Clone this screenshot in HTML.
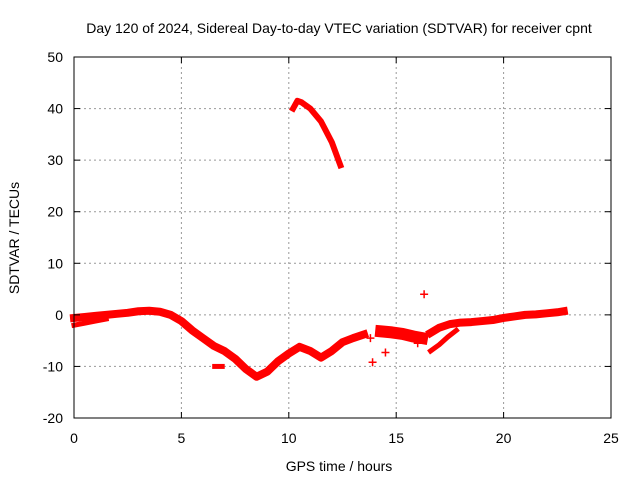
<!DOCTYPE html>
<html><head><meta charset="utf-8"><style>
body{margin:0;background:#fff;}
svg text{font-family:"Liberation Sans",sans-serif;font-size:14px;fill:#000;}
</style></head><body>
<svg id="chart" width="640" height="480" xmlns="http://www.w3.org/2000/svg">
<rect x="0" y="0" width="640" height="480" fill="#fff"/>
<g id="grid"></g>
<g id="marks"></g>
<rect x="74" y="57" width="537" height="361" fill="none" stroke="#000" stroke-width="1"/>
<g id="ticks"></g>
<text x="339" y="33" text-anchor="middle">Day 120 of 2024, Sidereal Day-to-day VTEC variation (SDTVAR) for receiver cpnt</text>
<text x="339" y="471" text-anchor="middle">GPS time / hours</text>
<text x="19" y="238" text-anchor="middle" transform="rotate(-90 19 238)">SDTVAR / TECUs</text>
</svg>
<script>
const xTicks=[0,5,10,15,20,25];
const yTicks=[-20,-10,0,10,20,30,40,50];
const mainH=[0,0.5,1,1.5,2,2.5,3,3.5,4,4.5,5,5.5,6,6.5,7,7.5,8,8.5,9,9.5,10,10.5,11,11.5,12,12.5,13,13.5];
const mainV=[-0.6,-0.4,-0.2,0,0.2,0.4,0.7,0.8,0.6,0,-1.2,-3,-4.5,-6,-7,-8.5,-10.5,-12,-11,-9,-7.5,-6.2,-7,-8.3,-7,-5.3,-4.5,-3.8];
const lowH=[0,0.5,1,1.5];
const lowV=[-2,-1.6,-1.2,-0.8];
const midH=[14.3,14.8,15.3,15.8,16.2];
const midV=[-3.2,-3.4,-3.7,-4.2,-4.5];
const lateH=[16.6,17,17.5,18,18.5,19,19.5,20,20.5,21,21.5,22,22.5,22.8];
const lateV=[-3.5,-2.5,-1.8,-1.5,-1.4,-1.2,-1,-0.6,-0.3,0,0.1,0.3,0.5,0.7];
const late2H=[16.6,17,17.4,17.8];
const late2V=[-7,-5.8,-4.3,-3];
const spikeH=[10.2,10.4,10.6,11,11.5,12,12.4];
const spikeV=[40,41.5,41.2,40,37.5,33.5,29];
const blipH=[6.55,6.9];
const blipV=[-10,-10];
const ptH=[13.9,14.5,16.3,13.8,16.0];
const ptV=[-9.2,-7.3,4,-4.5,-5.5];
const X=h=>74+h*537/25, Y=v=>57+(50-v)*361/70;
const ns="http://www.w3.org/2000/svg";
const grid=document.getElementById('grid'),ticks=document.getElementById('ticks'),marks=document.getElementById('marks');
function mk(tag,attrs,parent){const e=document.createElementNS(ns,tag);for(const k in attrs)e.setAttribute(k,attrs[k]);parent.appendChild(e);return e;}
xTicks.forEach(t=>{
 if(t>0&&t<25){const l=mk('line',{x1:X(t),x2:X(t),y1:57,y2:418,stroke:'#999','stroke-dasharray':'2,3'},grid);
 
 }
 mk('line',{x1:X(t),x2:X(t),y1:418,y2:412,stroke:'#000'},ticks);
 mk('line',{x1:X(t),x2:X(t),y1:57,y2:63,stroke:'#000'},ticks);
 const tx=mk('text',{x:X(t),y:443,'text-anchor':'middle'},ticks);tx.textContent=t;
 
 
});
yTicks.forEach(t=>{
 if(t>-20&&t<50){const l=mk('line',{x1:74,x2:611,y1:Y(t),y2:Y(t),stroke:'#999','stroke-dasharray':'2,3'},grid);
 
 }
 mk('line',{x1:74,x2:80,y1:Y(t),y2:Y(t),stroke:'#000'},ticks);
 mk('line',{x1:611,x2:605,y1:Y(t),y2:Y(t),stroke:'#000'},ticks);
 const tx=mk('text',{x:63,y:Y(t)+5,'text-anchor':'end'},ticks);tx.textContent=t;
 
 
});
function band(H,V,name,w){
 const p=mk('polyline',{points:H.map((h,i)=>X(h)+','+Y(V[i])).join(' '),fill:'none',stroke:'#f00','stroke-width':w,'stroke-linejoin':'round','stroke-linecap':'square'},marks);
 
 
}
band(mainH,mainV,'sdtvar-main-series',8);
band(lowH,lowV,'sdtvar-low-strand',5);
band(midH,midV,'sdtvar-mid-series',12);
band(lateH,lateV,'sdtvar-late-series',8);
band(late2H,late2V,'sdtvar-late-lower-strand',5);
band(spikeH,spikeV,'sdtvar-spike-series',6);
band(blipH,blipV,'sdtvar-blip',5);
ptH.forEach((h,i)=>{
 const x=X(h),y=Y(ptV[i]);
 const p=mk('path',{d:`M${x-4},${y}H${x+4}M${x},${y-4}V${y+4}`,stroke:'#f00','stroke-width':1.5},marks);
 
 
});
</script>
</body></html>
